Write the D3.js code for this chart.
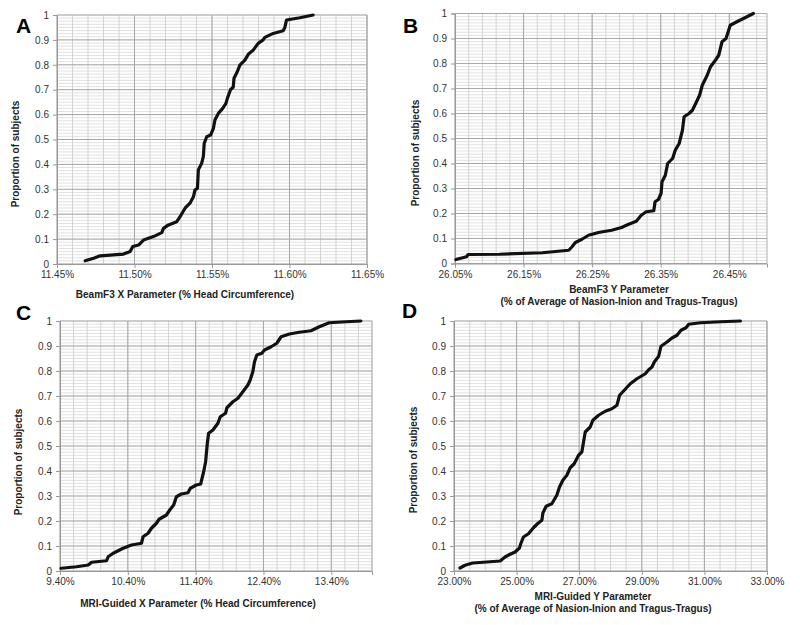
<!DOCTYPE html>
<html><head><meta charset="utf-8">
<script src="https://cdn.jsdelivr.net/npm/d3@7"></script>
<style>body{margin:0;background:#fff} text{font-family:"Liberation Sans",Arial,sans-serif}</style>
</head><body>
<svg id="c" width="800" height="625"></svg>
<script>
// ---------- DATA ----------
const yTickValues = [0,0.1,0.2,0.3,0.4,0.5,0.6,0.7,0.8,0.9,1];
const yTickLabels = ["0","0.1","0.2","0.3","0.4","0.5","0.6","0.7","0.8","0.9","1"];

const aTicks = [11.45,11.50,11.55,11.60,11.65];
const aTickLabels = ["11.45%","11.50%","11.55%","11.60%","11.65%"];
const aX = [11.4682,11.4736,11.4779,11.4843,11.4929,11.4972,11.4989,11.5026,11.5058,11.5122,11.5176,11.5187,11.5219,11.5273,11.5294,11.5326,11.5358,11.538,11.539,11.5406,11.5412,11.5433,11.5444,11.545,11.5466,11.5491,11.5509,11.5519,11.5541,11.5569,11.559,11.5599,11.562,11.5637,11.5642,11.5663,11.568,11.5712,11.5734,11.5766,11.5798,11.583,11.5841,11.5895,11.5959,11.597,11.5981,11.6067,11.6152];
const aP = [0.013,0.023,0.033,0.036,0.040,0.05,0.07,0.076,0.096,0.11,0.126,0.143,0.157,0.17,0.19,0.224,0.244,0.27,0.297,0.304,0.378,0.404,0.431,0.485,0.511,0.518,0.545,0.578,0.605,0.625,0.645,0.665,0.701,0.71,0.746,0.772,0.799,0.819,0.842,0.859,0.886,0.90,0.910,0.926,0.937,0.95,0.98,0.989,1.0];

const bTicks = [26.05,26.15,26.25,26.35,26.45];
const bTickLabels = ["26.05%","26.15%","26.25%","26.35%","26.45%"];
const bX = [26.0514,26.0668,26.0692,26.1149,26.1774,26.2159,26.2207,26.2255,26.2351,26.2447,26.2591,26.2784,26.2928,26.3024,26.3144,26.3216,26.3288,26.3399,26.3418,26.3466,26.3505,26.3519,26.3567,26.3601,26.3673,26.3712,26.3769,26.3817,26.3841,26.3913,26.3962,26.401,26.4067,26.4106,26.4178,26.4226,26.4298,26.4346,26.4394,26.4452,26.4514,26.4611,26.4707,26.4851];
const bP = [0.016,0.027,0.036,0.037,0.043,0.053,0.067,0.084,0.097,0.113,0.124,0.133,0.144,0.156,0.169,0.193,0.207,0.211,0.247,0.256,0.28,0.327,0.353,0.40,0.42,0.453,0.48,0.533,0.587,0.60,0.613,0.64,0.673,0.713,0.753,0.787,0.813,0.833,0.887,0.90,0.953,0.967,0.98,1.0];

const cTicks = [9.4,10.4,11.4,12.4,13.4];
const cTickLabels = ["9.40%","10.40%","11.40%","12.40%","13.40%"];
const cX = [9.415,9.645,9.817,9.866,10.086,10.11,10.184,10.331,10.454,10.601,10.625,10.699,10.748,10.822,10.861,10.969,11.018,11.076,11.116,11.189,11.287,11.322,11.41,11.474,11.518,11.547,11.572,11.591,11.655,11.728,11.763,11.841,11.861,11.949,12.023,12.096,12.17,12.204,12.243,12.268,12.302,12.375,12.415,12.513,12.596,12.66,12.782,12.929,13.1,13.223,13.37,13.616,13.836];
const cP = [0.011,0.017,0.024,0.035,0.041,0.057,0.071,0.091,0.104,0.111,0.137,0.151,0.171,0.191,0.207,0.224,0.244,0.264,0.297,0.308,0.313,0.331,0.344,0.348,0.397,0.437,0.511,0.551,0.564,0.591,0.617,0.631,0.653,0.677,0.691,0.717,0.744,0.764,0.797,0.837,0.864,0.871,0.884,0.897,0.911,0.937,0.948,0.955,0.961,0.977,0.993,0.997,1.0];

const dTicks = [23,25,27,29,31,33];
const dTickLabels = ["23.00%","25.00%","27.00%","29.00%","31.00%","33.00%"];
const dX = [23.192,23.352,23.597,24.045,24.472,24.632,24.792,24.952,25.091,25.133,25.219,25.379,25.539,25.667,25.808,25.84,25.944,26.125,26.285,26.371,26.477,26.605,26.712,26.84,26.979,27.085,27.139,27.192,27.352,27.437,27.619,27.832,28.045,28.205,28.291,28.44,28.632,28.845,29.112,29.219,29.325,29.4,29.539,29.613,29.805,29.965,30.125,30.253,30.413,30.499,30.872,31.512,32.152];
const dP = [0.012,0.023,0.032,0.036,0.04,0.056,0.067,0.076,0.092,0.109,0.136,0.149,0.173,0.189,0.203,0.232,0.259,0.269,0.303,0.336,0.363,0.383,0.413,0.429,0.463,0.476,0.516,0.556,0.576,0.603,0.623,0.639,0.649,0.663,0.703,0.723,0.749,0.769,0.789,0.805,0.816,0.836,0.859,0.899,0.916,0.932,0.943,0.963,0.973,0.987,0.993,0.997,1.0];

const yTitle = "Proportion of subjects";
const titlesA = ["BeamF3 X Parameter (% Head Circumference)"];
const titlesB = ["BeamF3 Y Parameter","(% of Average of Nasion-Inion and Tragus-Tragus)"];
const titlesC = ["MRI-Guided X Parameter (% Head Circumference)"];
const titlesD = ["MRI-Guided Y Parameter","(% of Average of Nasion-Inion and Tragus-Tragus)"];

// ---------- LAYOUT ----------
const panels = [
  {letter:"A", lx:16, ly:33, box:[57,367,15,264], dom:[11.45,11.65], ticks:aTicks, labels:aTickLabels, minor:0.01, xs:aX, ps:aP, titles:titlesA, tx:185, ty:[298], ytx:19, yty:154},
  {letter:"B", lx:403, ly:33, box:[455,767,13.5,263.5], dom:[26.05,26.505], ticks:bTicks, labels:bTickLabels, minor:0.02, xs:bX, ps:bP, titles:titlesB, tx:619, ty:[293,305], ytx:419, yty:153},
  {letter:"C", lx:16, ly:319.5, box:[60,372,321,571], dom:[9.4,14.0], ticks:cTicks, labels:cTickLabels, minor:0.2, xs:cX, ps:cP, titles:titlesC, tx:198, ty:[607], ytx:22, yty:462},
  {letter:"D", lx:402, ly:318, box:[454,767,321,571], dom:[23,33], ticks:dTicks, labels:dTickLabels, minor:0.5, xs:dX, ps:dP, titles:titlesD, tx:593, ty:[600,611.5], ytx:417, yty:460}
];

const svg = d3.select("#c");
svg.append("rect").attr("width",800).attr("height",625).attr("fill","#fff");

panels.forEach(p => {
  const [L,R,T,B] = p.box;
  const x = d3.scaleLinear().domain(p.dom).range([L,R]);
  const y = d3.scaleLinear().domain([0,1]).range([B,T]);
  const g = svg.append("g");

  // minor grid
  const nMinX = Math.floor((p.dom[1]-p.dom[0])/p.minor + 1e-6);
  const minorX = d3.range(0,nMinX+1).map(i => p.dom[0] + i*p.minor);
  const minorY = d3.range(0,81).map(i => i*0.0125);
  g.selectAll(".mgy").data(minorY).join("line")
    .attr("x1",L).attr("x2",R).attr("y1",d=>y(d)).attr("y2",d=>y(d))
    .attr("stroke","#d9d9d9").attr("stroke-width",0.8);
  g.selectAll(".mgx").data(minorX).join("line")
    .attr("x1",d=>x(d)).attr("x2",d=>x(d)).attr("y1",T).attr("y2",B)
    .attr("stroke","#cfcfcf").attr("stroke-width",0.9);
  // major grid
  g.selectAll(".Mgy").data(yTickValues).join("line")
    .attr("x1",L).attr("x2",R).attr("y1",d=>y(d)).attr("y2",d=>y(d))
    .attr("stroke","#a8a8a8").attr("stroke-width",1);
  g.selectAll(".Mgx").data(p.ticks).join("line")
    .attr("x1",d=>x(d)).attr("x2",d=>x(d)).attr("y1",T).attr("y2",B)
    .attr("stroke","#a8a8a8").attr("stroke-width",1);
  // frame right/top
  g.append("line").attr("x1",R).attr("x2",R).attr("y1",T).attr("y2",B).attr("stroke","#b0b0b0");

  // axes
  const ya = d3.axisLeft(y).tickValues(yTickValues).tickFormat((d,i)=>yTickLabels[i]).tickSize(4).tickPadding(4);
  const yg = g.append("g").attr("transform",`translate(${L},0)`).call(ya);
  const xa = d3.axisBottom(x).tickValues(p.ticks).tickFormat((d,i)=>p.labels[i]).tickSize(4).tickPadding(3);
  const xg = g.append("g").attr("transform",`translate(0,${B})`).call(xa);
  [yg,xg].forEach(a => {
    a.select(".domain").attr("stroke","#999").attr("stroke-width",1);
    a.selectAll(".tick line").attr("stroke","#999");
    a.selectAll("text").attr("font-size",10).attr("fill","#333").attr("font-family","'Liberation Sans',Arial,sans-serif");
  });

  // curve
  const pts = p.xs.map((v,i)=>[v,p.ps[i]]);
  g.append("path").datum(pts)
    .attr("d", d3.line().x(d=>x(d[0])).y(d=>y(d[1])))
    .attr("fill","none").attr("stroke","#111").attr("stroke-width",3.2)
    .attr("stroke-linejoin","round").attr("stroke-linecap","round");

  // titles
  p.titles.forEach((t,i)=>{
    g.append("text").attr("x",p.tx).attr("y",p.ty[i]).attr("text-anchor","middle")
      .attr("font-size",10).attr("font-weight","bold").attr("fill","#222").text(t);
  });
  g.append("text").attr("transform",`translate(${p.ytx},${p.yty}) rotate(-90)`)
    .attr("text-anchor","middle").attr("font-size",10).attr("font-weight","bold").attr("fill","#222").text(yTitle);
  g.append("text").attr("x",p.lx).attr("y",p.ly).attr("font-size",21).attr("font-weight","bold").attr("fill","#000").text(p.letter);
});
</script>
</body></html>
